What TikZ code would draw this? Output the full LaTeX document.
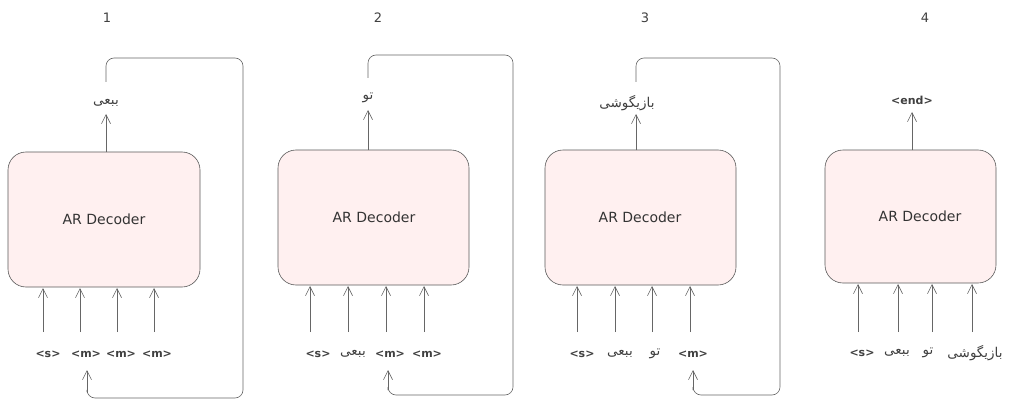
\documentclass[tikz,border=0pt]{standalone}
\usepackage{fontspec}
\setmainfont{DejaVu Sans}
\newfontfamily\arabicfont[Script=Arabic]{DejaVu Sans}
\TeXXeTstate=1
\usetikzlibrary{arrows.meta}
\begin{document}
\begin{tikzpicture}[x=1pt,y=-1pt,
  dec/.style={draw=black!65,fill=red!6,rounded corners=18pt,line width=0.6pt},
  arr/.style={draw=black!60,line width=0.6pt,-{Straight Barb[length=9pt,width=9pt]}},
  loop/.style={draw=black!60,line width=0.6pt,rounded corners=8pt},
  tok/.style={font=\fontsize{11}{13}\selectfont\bfseries,text=black!75,inner sep=1pt},
  ar/.style={font=\arabicfont\fontsize{13.5}{15}\selectfont,text=black!75,inner sep=1pt},
  num/.style={font=\fontsize{13}{14}\selectfont,text=black!75},
  lbl/.style={font=\fontsize{14}{16}\selectfont,text=black!80}]
\useasboundingbox (0,0) rectangle (1024,409);
% ---------- 1
\node[num] (n1) at (107,18) {1};
\draw[dec] (8,152) rectangle (200,287);
\node[lbl] (d1) at (104,219) {AR Decoder};
\coordinate (o1a) at (106,152); \coordinate (o1b) at (106,114);
\draw[arr] (o1a) -- (o1b);
\node[ar] (l1) at (106,103) {\beginR ببعی\endR};
\draw[loop] (106,82) -- (106,58) -- (243,58) -- (243,398) -- (87,398) -- (87,392);
\coordinate (f1) at (87,392); \coordinate (f1b) at (87,370);
\draw[arr] (f1) -- (f1b);
\foreach \x/\i in {43/a,80/b,117/c,154/d}{\coordinate (i1\i) at (\x,332); \coordinate (j1\i) at (\x,288); \draw[arr] (i1\i) -- (j1\i);}
\node[tok] (t11) at (48,354) {<s>};
\node[tok] (t12) at (86,354) {<m>};
\node[tok] (t13) at (121,354) {<m>};
\node[tok] (t14) at (157,354) {<m>};
% ---------- 2
\node[num] (n2) at (378,18) {2};
\draw[dec] (278,150) rectangle (469,285);
\node[lbl] (d2) at (374,217) {AR Decoder};
\coordinate (o2a) at (368,150); \coordinate (o2b) at (368,110);
\draw[arr] (o2a) -- (o2b);
\node[ar] (l2) at (368,98) {\beginR تو\endR};
\draw[loop] (368,78) -- (368,55) -- (513,55) -- (513,395) -- (388,395) -- (388,390);
\coordinate (f2) at (388,390); \coordinate (f2b) at (388,370);
\draw[arr] (f2) -- (f2b);
\foreach \x/\i in {310/a,348/b,386/c,424/d}{\coordinate (i2\i) at (\x,332); \coordinate (j2\i) at (\x,286); \draw[arr] (i2\i) -- (j2\i);}
\node[tok] (t21) at (318,354) {<s>};
\node[ar] (t22) at (353,354) {\beginR ببعی\endR};
\node[tok] (t23) at (390,354) {<m>};
\node[tok] (t24) at (427,354) {<m>};
% ---------- 3
\node[num] (n3) at (645,18) {3};
\draw[dec] (545,150) rectangle (736,285);
\node[lbl] (d3) at (640,217) {AR Decoder};
\coordinate (o3a) at (636,150); \coordinate (o3b) at (636,114);
\draw[arr] (o3a) -- (o3b);
\node[ar] (l3) at (627,103) {\beginR بازیگوشی\endR};
\draw[loop] (636,82) -- (636,58) -- (780,58) -- (780,395) -- (693,395) -- (693,390);
\coordinate (f3) at (693,390); \coordinate (f3b) at (693,370);
\draw[arr] (f3) -- (f3b);
\foreach \x/\i in {577/a,615/b,652/c,690/d}{\coordinate (i3\i) at (\x,332); \coordinate (j3\i) at (\x,286); \draw[arr] (i3\i) -- (j3\i);}
\node[tok] (t31) at (582,354) {<s>};
\node[ar] (t32) at (620,354) {\beginR ببعی\endR};
\node[ar] (t33) at (655,354) {\beginR تو\endR};
\node[tok] (t34) at (693,354) {<m>};
% ---------- 4
\node[num] (n4) at (925,18) {4};
\draw[dec] (825,150) rectangle (996,283);
\node[lbl] (d4) at (920,216) {AR Decoder};
\coordinate (o4a) at (912,150); \coordinate (o4b) at (912,112);
\draw[arr] (o4a) -- (o4b);
\node[tok] (l4) at (912,100) {<end>};
\foreach \x/\i in {858/a,898/b,932/c,972/d}{\coordinate (i4\i) at (\x,332); \coordinate (j4\i) at (\x,284); \draw[arr] (i4\i) -- (j4\i);}
\node[tok] (t41) at (862,353) {<s>};
\node[ar] (t42) at (897,353) {\beginR ببعی\endR};
\node[ar] (t43) at (928,353) {\beginR تو\endR};
\node[ar] (t44) at (975,353) {\beginR بازیگوشی\endR};
\end{tikzpicture}
\end{document}
